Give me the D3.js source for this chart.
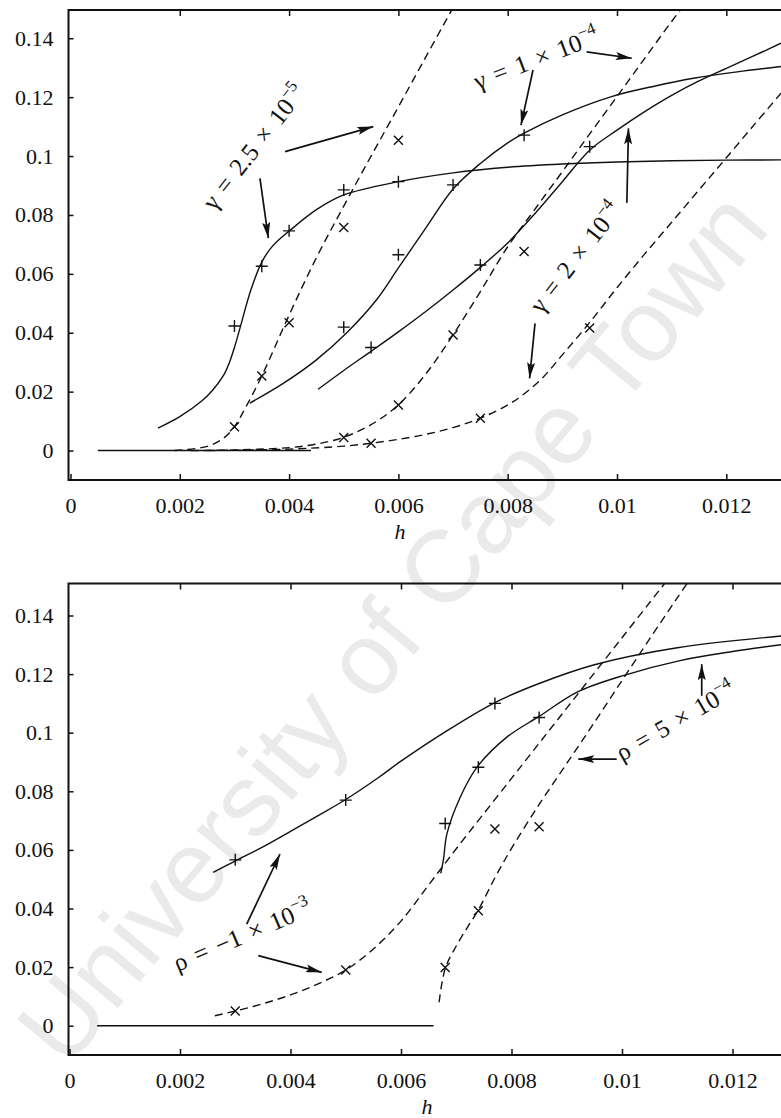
<!DOCTYPE html>
<html>
<head>
<meta charset="utf-8">
<script src="https://cdn.jsdelivr.net/npm/d3@7"></script>
<style>
body { margin: 0; background: #fff; }
svg { display: block; }
text { font-family: "Liberation Serif", "Times New Roman", serif; fill: #111; }
</style>
</head>
<body>
<svg id="chart" width="781" height="1118"></svg>
<script>
// ---------- top panel: gamma series ----------
var zeroTopH = [0.0005, 0.0044];
var zeroTopV = [0, 0];

// gamma = 2.5e-5, solid / dashed
var g25SolidH = [0.0016, 0.002, 0.0024, 0.0026, 0.0028, 0.0029, 0.003, 0.0031, 0.0033, 0.0035, 0.0037, 0.004, 0.0045, 0.005, 0.006, 0.007, 0.008, 0.009, 0.010, 0.011, 0.012, 0.013];
var g25SolidV = [0.0076, 0.0115, 0.0168, 0.0205, 0.0255, 0.0295, 0.035, 0.0415, 0.0545, 0.064, 0.0695, 0.0745, 0.0818, 0.0868, 0.0913, 0.0943, 0.0962, 0.0973, 0.098, 0.0984, 0.0986, 0.0987];
var g25DashH = [0.0019, 0.0025, 0.0028, 0.003, 0.0032, 0.0035, 0.004, 0.0045, 0.005, 0.0055, 0.006, 0.0065, 0.007];
var g25DashV = [0, 0.0014, 0.0042, 0.0081, 0.0145, 0.0253, 0.046, 0.0655, 0.083, 0.1, 0.1167, 0.1336, 0.1504];
var g25PlusH = [0.003, 0.0035, 0.004, 0.005, 0.006];
var g25PlusV = [0.0423, 0.0626, 0.0746, 0.0885, 0.0913];
var g25CrossH = [0.003, 0.0035, 0.004, 0.005, 0.006];
var g25CrossV = [0.0081, 0.0253, 0.0434, 0.0757, 0.1054];

// gamma = 1e-4
var g1SolidH = [0.00328, 0.0039, 0.0045, 0.00505, 0.0056, 0.006, 0.0065, 0.007, 0.0075, 0.008, 0.0083, 0.009, 0.0099, 0.0107, 0.0114, 0.0122, 0.013];
var g1SolidV = [0.0161, 0.0229, 0.0308, 0.0399, 0.0512, 0.062, 0.0755, 0.0888, 0.0975, 0.1045, 0.1078, 0.114, 0.1202, 0.1238, 0.1264, 0.1286, 0.1304];
var g1DashH = [0.0022, 0.003, 0.004, 0.0045, 0.005, 0.0055, 0.006, 0.0065, 0.007, 0.0075, 0.008, 0.0085, 0.009, 0.0095, 0.010, 0.0105, 0.011, 0.0113];
var g1DashV = [0, 0.0002, 0.001, 0.0022, 0.0045, 0.0088, 0.0155, 0.026, 0.0393, 0.054, 0.0692, 0.082, 0.0947, 0.1075, 0.1202, 0.133, 0.1457, 0.153];
var g1PlusH = [0.005, 0.006, 0.007, 0.0083];
var g1PlusV = [0.0419, 0.0665, 0.0902, 0.1071];
var g1CrossH = [0.005, 0.006, 0.007, 0.0083];
var g1CrossV = [0.0044, 0.0155, 0.0392, 0.0676];

// gamma = 2e-4
var g2SolidH = [0.00453, 0.005, 0.0055, 0.006, 0.0065, 0.007, 0.0075, 0.008, 0.0085, 0.009, 0.0095, 0.010, 0.0105, 0.011, 0.0115, 0.012, 0.0125, 0.013];
var g2SolidV = [0.0208, 0.0272, 0.0337, 0.0403, 0.0472, 0.0545, 0.0622, 0.0705, 0.0805, 0.0913, 0.102, 0.1088, 0.115, 0.1206, 0.1255, 0.1298, 0.134, 0.1383];
var g2DashH = [0.0025, 0.004, 0.005, 0.0055, 0.006, 0.0065, 0.007, 0.0075, 0.0081, 0.0086, 0.009, 0.0095, 0.010, 0.0105, 0.011, 0.0115, 0.012, 0.0125, 0.013];
var g2DashV = [0, 0.0005, 0.0015, 0.0025, 0.0038, 0.0055, 0.0078, 0.011, 0.0166, 0.024, 0.0325, 0.0435, 0.0553, 0.0666, 0.0775, 0.0885, 0.0994, 0.1104, 0.1213];
var g2PlusH = [0.0055, 0.0075, 0.0095];
var g2PlusV = [0.035, 0.063, 0.1032];
var g2CrossH = [0.0055, 0.0075, 0.0095];
var g2CrossV = [0.0025, 0.011, 0.0416];

// ---------- bottom panel: rho series ----------
var zeroBotH = [0.0005, 0.00659];
var zeroBotV = [0, 0];

// rho = -1e-3
var rNegSolidH = [0.0026, 0.003, 0.0035, 0.004, 0.0045, 0.005, 0.0056, 0.006, 0.0068, 0.0077, 0.0085, 0.0095, 0.011, 0.013];
var rNegSolidV = [0.0523, 0.0562, 0.061, 0.0663, 0.0717, 0.0772, 0.0848, 0.0903, 0.1003, 0.1103, 0.1168, 0.1232, 0.129, 0.1332];
var rNegDashH = [0.00263, 0.003, 0.0035, 0.004, 0.0045, 0.005, 0.0055, 0.006, 0.0065, 0.007, 0.008, 0.009, 0.010, 0.0108];
var rNegDashV = [0.0034, 0.005, 0.0075, 0.0105, 0.0143, 0.019, 0.0262, 0.0357, 0.048, 0.0604, 0.0844, 0.1084, 0.1324, 0.1516];
var rNegPlusH = [0.003, 0.005, 0.0077];
var rNegPlusV = [0.0566, 0.077, 0.110];
var rNegCrossH = [0.003, 0.005, 0.0077];
var rNegCrossV = [0.005, 0.019, 0.0671];

// rho = 5e-4
var rPosSolidH = [0.00672, 0.00677, 0.00683, 0.00707, 0.00737, 0.00791, 0.00852, 0.00918, 0.01002, 0.01105, 0.012, 0.013];
var rPosSolidV = [0.052, 0.0569, 0.0654, 0.0779, 0.0881, 0.0984, 0.1058, 0.1138, 0.1195, 0.1246, 0.1277, 0.1303];
var rPosDashH = [0.00669, 0.0068, 0.007, 0.0072, 0.0074, 0.0077, 0.008, 0.0085, 0.009, 0.0095, 0.010, 0.0105, 0.011, 0.0114];
var rPosDashV = [0.008, 0.0195, 0.0272, 0.0335, 0.0395, 0.0505, 0.0605, 0.0755, 0.0895, 0.1035, 0.1178, 0.132, 0.146, 0.157];
var rPosPlusH = [0.0068, 0.0074, 0.0085];
var rPosPlusV = [0.069, 0.0882, 0.1052];
var rPosCrossH = [0.0068, 0.0074, 0.0085];
var rPosCrossV = [0.0199, 0.0392, 0.0679];

// ticks
var xTicks = [0, 0.002, 0.004, 0.006, 0.008, 0.01, 0.012];
var xTickLabels = ["0", "0.002", "0.004", "0.006", "0.008", "0.01", "0.012"];
var yTicks = [0, 0.02, 0.04, 0.06, 0.08, 0.1, 0.12, 0.14];
var yTickLabels = ["0", "0.02", "0.04", "0.06", "0.08", "0.1", "0.12", "0.14"];

var svg = d3.select("#chart");
var W = 781;

// arrow head
svg.append("defs").append("marker")
	.attr("id", "head")
	.attr("markerUnits", "userSpaceOnUse")
	.attr("viewBox", "0 0 16 8")
	.attr("refX", 16).attr("refY", 4)
	.attr("markerWidth", 16).attr("markerHeight", 8)
	.attr("orient", "auto")
	.append("path").attr("d", "M0,0 L16,4 L0,8 L3,4 Z").attr("fill", "#111");

// watermark (behind everything)
svg.append("text")
	.attr("transform", "translate(66,1070) rotate(-50)")
	.style("font-family", "'Liberation Sans', Arial, sans-serif")
	.style("font-size", "102px")
	.style("fill", "#eaeaea")
	.text("University of Cape Town");

function zip(hs, vs) {
	var out = [];
	for (var i = 0; i < hs.length; i++) out.push([hs[i], vs[i]]);
	return out;
}

//draw one panel
function drawPanel(p) {
	var x = d3.scaleLinear().domain([0, 0.013]).range([p.x0, p.x0 + 0.013 * p.kx]);
	var y = d3.scaleLinear().domain([-0.01, 0.15]).range([p.bottom, p.bottom - 0.16 * p.ky]);
	var g = svg.append("g");

	var clipId = "clip" + p.id;
	svg.select("defs").append("clipPath").attr("id", clipId)
		.append("rect").attr("x", p.left).attr("y", p.top).attr("width", W - p.left).attr("height", p.bottom - p.top);

	// x axis (bottom) with inward ticks
	var ax = d3.axisBottom(x).tickValues(xTicks).tickSize(-6).tickSizeOuter(0).tickPadding(17)
		.tickFormat(function(d, i) { return xTickLabels[i]; });
	var gx = g.append("g").attr("transform", "translate(0," + p.bottom + ")").call(ax);
	gx.select(".domain").remove();
	gx.selectAll("text").style("font-size", "22px").style("font-family", "'Liberation Serif', serif");
	gx.selectAll("line").attr("stroke", "#111").attr("stroke-width", 1.5);

	// top border ticks
	var at = d3.axisTop(x).tickValues(xTicks.slice(1)).tickSize(-6).tickSizeOuter(0).tickFormat("");
	var gt = g.append("g").attr("transform", "translate(0," + p.top + ")").call(at);
	gt.select(".domain").remove();
	gt.selectAll("line").attr("stroke", "#111").attr("stroke-width", 1.5);

	// y axis
	var ay = d3.axisLeft(y).tickValues(yTicks).tickSize(-5).tickSizeOuter(0).tickPadding(15)
		.tickFormat(function(d, i) { return yTickLabels[i]; });
	var gy = g.append("g").attr("transform", "translate(" + p.left + ",0)").call(ay);
	gy.select(".domain").remove();
	gy.selectAll("text").style("font-size", "22px").style("font-family", "'Liberation Serif', serif");
	gy.selectAll("line").attr("stroke", "#111").attr("stroke-width", 1.5);

	// frame
	g.append("path")
		.attr("d", "M" + W + "," + p.top + "H" + p.left + "V" + p.bottom + "H" + W)
		.attr("fill", "none").attr("stroke", "#111").attr("stroke-width", 2);

	// axis title
	g.append("text").attr("x", p.hx).attr("y", p.bottom + 59)
		.attr("text-anchor", "middle")
		.style("font-size", "22px").style("font-style", "italic")
		.text("h");

	var plot = g.append("g").attr("clip-path", "url(#" + clipId + ")");
	var line = d3.line().x(function(d) { return x(d[0]); }).y(function(d) { return y(d[1]); })
		.curve(d3.curveCatmullRom.alpha(0.5));

	p.series.forEach(function(s) {
		plot.append("path")
			.attr("d", line(zip(s.h, s.v)))
			.attr("fill", "none")
			.attr("stroke", "#111")
			.attr("stroke-width", 1.4)
			.attr("stroke-dasharray", s.dash ? "8,5" : null);
	});

	// + and x markers
	p.plus.forEach(function(m) {
		zip(m.h, m.v).forEach(function(d) {
			var cx = x(d[0]), cy = y(d[1]);
			plot.append("path")
				.attr("d", "M" + (cx - 6) + "," + cy + "H" + (cx + 6) + "M" + cx + "," + (cy - 6) + "V" + (cy + 6))
				.attr("stroke", "#111").attr("stroke-width", 1.4);
		});
	});
	p.cross.forEach(function(m) {
		zip(m.h, m.v).forEach(function(d) {
			var cx = x(d[0]), cy = y(d[1]), r = 4.5;
			plot.append("path")
				.attr("d", "M" + (cx - r) + "," + (cy - r) + "L" + (cx + r) + "," + (cy + r) + "M" + (cx - r) + "," + (cy + r) + "L" + (cx + r) + "," + (cy - r))
				.attr("stroke", "#111").attr("stroke-width", 1.4);
		});
	});

	// arrows
	p.arrows.forEach(function(a) {
		g.append("line")
			.attr("x1", x(a[0])).attr("y1", y(a[1]))
			.attr("x2", x(a[2])).attr("y2", y(a[3]))
			.attr("stroke", "#111").attr("stroke-width", 1.7)
			.attr("marker-end", "url(#head)");
	});

	// labels: base text + superscript
	p.labels.forEach(function(l) {
		var t = g.append("text")
			.attr("transform", "translate(" + x(l.h) + "," + y(l.v) + ") rotate(" + l.angle + ")")
			.style("font-size", "25px")
			.style("word-spacing", "3px");
		t.append("tspan").text(l.text);
		t.append("tspan").attr("dy", -11).style("font-size", "17px").text(l.sup);
	});
}

drawPanel({
	id: "top", left: 68.5, top: 10, bottom: 480, x0: 70.5, kx: 54650, ky: 2945, hx: 400,
	series: [
		{h: zeroTopH, v: zeroTopV},
		{h: g25SolidH, v: g25SolidV},
		{h: g25DashH, v: g25DashV, dash: true},
		{h: g1SolidH, v: g1SolidV},
		{h: g1DashH, v: g1DashV, dash: true},
		{h: g2SolidH, v: g2SolidV},
		{h: g2DashH, v: g2DashV, dash: true}
	],
	plus: [{h: g25PlusH, v: g25PlusV}, {h: g1PlusH, v: g1PlusV}, {h: g2PlusH, v: g2PlusV}],
	cross: [{h: g25CrossH, v: g25CrossV}, {h: g1CrossH, v: g1CrossV}, {h: g2CrossH, v: g2CrossV}],
	arrows: [
		[0.003925, 0.1015, 0.00554, 0.110],
		[0.003467, 0.0924, 0.00362, 0.0721],
		[0.009445, 0.1354, 0.01027, 0.1332],
		[0.008463, 0.1292, 0.008243, 0.1105],
		[0.01018, 0.0841, 0.01021, 0.1094],
		[0.0085, 0.0432, 0.0084, 0.0245]
	],
	labels: [
		{h: 0.00263, v: 0.0812, angle: -52, text: "\u03b3 = 2.5 \u00d7 10", sup: "\u22125"},
		{h: 0.00745, v: 0.1224, angle: -21, text: "\u03b3 = 1 \u00d7 10", sup: "\u22124"},
		{h: 0.00862, v: 0.0462, angle: -52, text: "\u03b3 = 2 \u00d7 10", sup: "\u22124"}
	]
});

drawPanel({
	id: "bot", left: 68.5, top: 583.5, bottom: 1055, x0: 69.5, kx: 55250, ky: 2930, hx: 427,
	series: [
		{h: zeroBotH, v: zeroBotV},
		{h: rNegSolidH, v: rNegSolidV},
		{h: rNegDashH, v: rNegDashV, dash: true},
		{h: rPosSolidH, v: rPosSolidV},
		{h: rPosDashH, v: rPosDashV, dash: true}
	],
	plus: [{h: rNegPlusH, v: rNegPlusV}, {h: rPosPlusH, v: rPosPlusV}],
	cross: [{h: rNegCrossH, v: rNegCrossV}, {h: rPosCrossH, v: rPosCrossV}],
	arrows: [
		[0.003207, 0.0347, 0.00381, 0.0586],
		[0.003417, 0.0239, 0.004565, 0.0182],
		[0.011443, 0.1126, 0.011443, 0.1234],
		[0.009904, 0.0910, 0.009209, 0.0910]
	],
	labels: [
		{h: 0.00196, v: 0.0184, angle: -23, text: "\u03c1 = \u22121 \u00d7 10", sup: "\u22123"},
		{h: 0.01, v: 0.0901, angle: -30, text: "\u03c1 = 5 \u00d7 10", sup: "\u22124"}
	]
});
</script>
</body>
</html>
